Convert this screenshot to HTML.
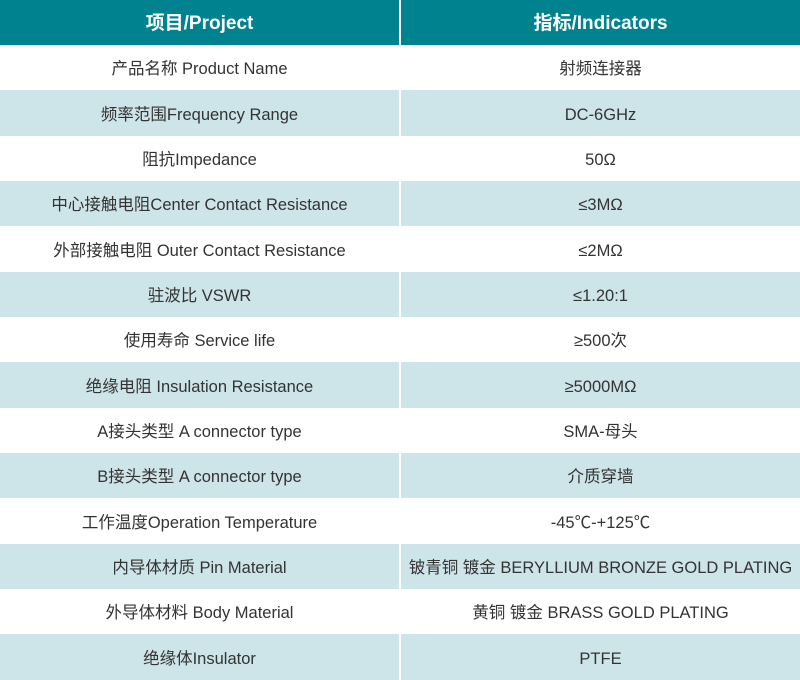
<!DOCTYPE html>
<html><head><meta charset="utf-8"><style>
html,body{margin:0;padding:0;background:#fff;}
body{width:800px;height:680px;overflow:hidden;font-family:"Liberation Sans","Noto Sans CJK SC",sans-serif;}
.r{display:flex;height:45.357px;}
.r div{display:flex;align-items:center;justify-content:center;font-size:16.5px;line-height:20px;color:#333;white-space:nowrap;padding-top:3px;box-sizing:border-box;}
.r div span{display:block;height:20px;line-height:20px;overflow:visible;}
.r div:first-child{width:401px;border-right:2px solid #fff;}
.r div:last-child{width:399px;}
.h{height:45px;}
.h div{background:#00838f;color:#fff !important;font-size:19px !important;font-weight:bold;}
.b div{background:#cde4e9;}
</style></head><body>
<div class="r h"><div><span>项目/Project</span></div><div><span>指标/Indicators</span></div></div>
<div class="r"><div><span>产品名称 Product Name</span></div><div><span>射频连接器</span></div></div>
<div class="r b"><div><span>频率范围Frequency Range</span></div><div><span>DC-6GHz</span></div></div>
<div class="r"><div><span>阻抗Impedance</span></div><div><span>50Ω</span></div></div>
<div class="r b"><div><span>中心接触电阻Center Contact Resistance</span></div><div><span>≤3MΩ</span></div></div>
<div class="r"><div><span>外部接触电阻 Outer Contact Resistance</span></div><div><span>≤2MΩ</span></div></div>
<div class="r b"><div><span>驻波比 VSWR</span></div><div><span>≤1.20:1</span></div></div>
<div class="r"><div><span>使用寿命 Service life</span></div><div><span>≥500次</span></div></div>
<div class="r b"><div><span>绝缘电阻 Insulation Resistance</span></div><div><span>≥5000MΩ</span></div></div>
<div class="r"><div><span>A接头类型 A connector type</span></div><div><span>SMA-母头</span></div></div>
<div class="r b"><div><span>B接头类型 A connector type</span></div><div><span>介质穿墙</span></div></div>
<div class="r"><div><span>工作温度Operation Temperature</span></div><div><span>-45℃-+125℃</span></div></div>
<div class="r b"><div><span>内导体材质 Pin Material</span></div><div><span>铍青铜 镀金 BERYLLIUM BRONZE GOLD PLATING</span></div></div>
<div class="r"><div><span>外导体材料 Body Material</span></div><div><span>黄铜 镀金 BRASS GOLD PLATING</span></div></div>
<div class="r b"><div><span>绝缘体Insulator</span></div><div><span>PTFE</span></div></div>
</body></html>
